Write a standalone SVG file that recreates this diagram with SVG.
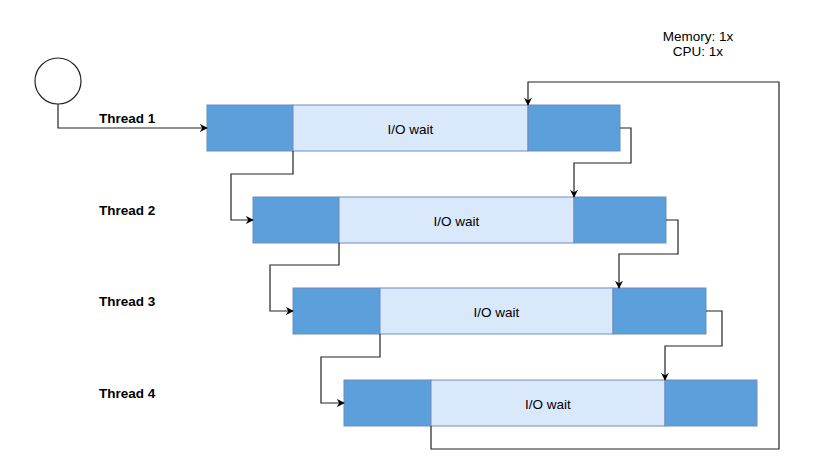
<svg xmlns="http://www.w3.org/2000/svg" width="821" height="471" viewBox="0 0 821 471">
  <defs>
    <style>
      .cpu { fill: #5b9fdb; stroke: #6c8ebf; stroke-width: 1; }
      .io { fill: #dae8fc; stroke: #6c8ebf; stroke-width: 1; }
      .lbl { font-family: "Liberation Sans", Arial, sans-serif; font-size: 13.5px; fill: #000; }
      .bold { font-weight: bold; }
      .edge { fill: none; stroke: #222; stroke-width: 1.2; marker-end: url(#arrow); }
    </style>
    <marker id="arrow" viewBox="0 0 10 10" refX="9" refY="5" markerWidth="8" markerHeight="8" markerUnits="userSpaceOnUse" orient="auto">
      <path d="M0,0 L10,5 L0,10 L3,5 Z" fill="#000"/>
    </marker>
  </defs>

  <rect width="821" height="471" fill="#fff"/>

  <g id="start">
    <circle cx="58" cy="81" r="23" fill="#fff" stroke="#222" stroke-width="1.2"/>
  </g>

  <g id="resources">
    <text class="lbl" x="698" y="41" text-anchor="middle">Memory: 1x</text>
    <text class="lbl" x="698" y="56" text-anchor="middle">CPU: 1x</text>
  </g>

  <g id="thread1">
    <text class="lbl bold" x="99" y="123">Thread 1</text>
    <rect class="cpu" x="207" y="105" width="86" height="46"/>
    <rect class="io" x="293" y="105" width="235" height="46"/>
    <rect class="cpu" x="528" y="105" width="92" height="46"/>
    <text class="lbl" x="410.5" y="134" text-anchor="middle">I/O wait</text>
  </g>

  <g id="thread2">
    <text class="lbl bold" x="99" y="215">Thread 2</text>
    <rect class="cpu" x="253" y="197" width="86" height="46"/>
    <rect class="io" x="339" y="197" width="235" height="46"/>
    <rect class="cpu" x="574" y="197" width="92" height="46"/>
    <text class="lbl" x="456.5" y="226" text-anchor="middle">I/O wait</text>
  </g>

  <g id="thread3">
    <text class="lbl bold" x="99" y="306">Thread 3</text>
    <rect class="cpu" x="293" y="288" width="87" height="46"/>
    <rect class="io" x="380" y="288" width="233" height="46"/>
    <rect class="cpu" x="613" y="288" width="93" height="46"/>
    <text class="lbl" x="496.5" y="317" text-anchor="middle">I/O wait</text>
  </g>

  <g id="thread4">
    <text class="lbl bold" x="99" y="398">Thread 4</text>
    <rect class="cpu" x="344" y="380" width="87" height="46"/>
    <rect class="io" x="431" y="380" width="234" height="46"/>
    <rect class="cpu" x="665" y="380" width="92" height="46"/>
    <text class="lbl" x="548" y="409" text-anchor="middle">I/O wait</text>
  </g>

  <g id="connectors">
    <path class="edge" d="M58,104 V128 H207"/>
    <path class="edge" d="M293,151 V174 H231 V220 H253"/>
    <path class="edge" d="M620,128 H631 V163 H574 V197"/>
    <path class="edge" d="M339,243 V265 H270 V311 H293"/>
    <path class="edge" d="M666,220 H678 V254 H619 V288"/>
    <path class="edge" d="M380,334 V357 H321 V403 H344"/>
    <path class="edge" d="M706,311 H722 V346 H665 V380"/>
    <path class="edge" d="M431,426 V449 H779 V82 H528 V105"/>
  </g>
</svg>
